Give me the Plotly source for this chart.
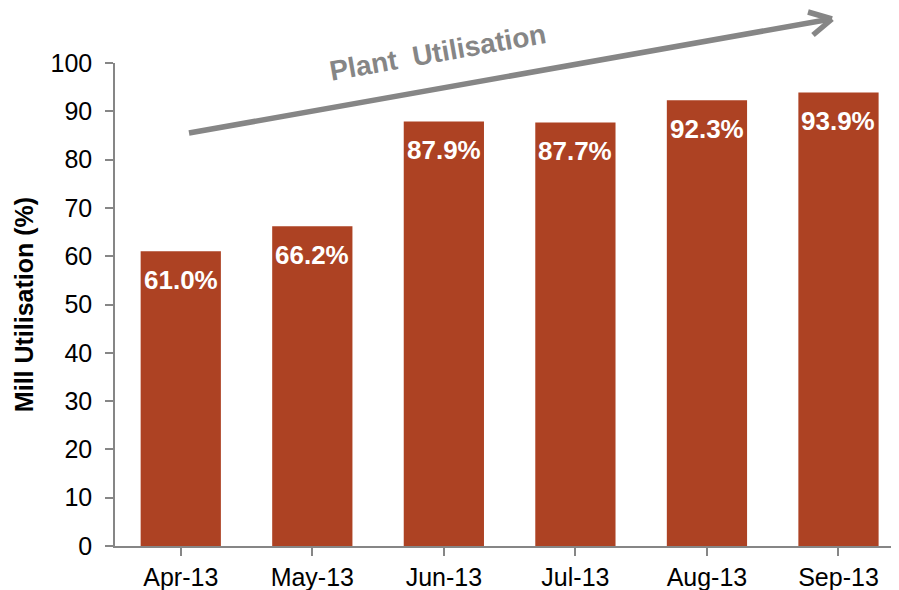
import plotly.graph_objects as go

months = ["Apr-13", "May-13", "Jun-13", "Jul-13", "Aug-13", "Sep-13"]
utilisation = [61.0, 66.2, 87.9, 87.7, 92.3, 93.9]
labels = ["61.0%", "66.2%", "87.9%", "87.7%", "92.3%", "93.9%"]
y_ticks = [0, 10, 20, 30, 40, 50, 60, 70, 80, 90, 100]

BAR = "#AD4223"
GREY = "#868686"
FONT = "Liberation Sans, Arial, sans-serif"

fig = go.Figure()
fig.add_trace(go.Bar(x=list(range(len(months))), y=utilisation, marker_color=BAR,
                     marker_line_width=0, hoverinfo="skip"))

for i, (v, t) in enumerate(zip(utilisation, labels)):
    fig.add_annotation(x=i, y=v, text="<b>%s</b>" % t, showarrow=False,
                       yanchor="top", yshift=-12,
                       font=dict(family=FONT, size=26, color="white"))

# page body has an 8px margin, so the figure is drawn 8px smaller
W, H = 891, 582
L, R, T, B = 107, 0, 55, 44
pw, ph = W - L - R, H - T - B

def px(x):  # window pixel -> paper
    return (x - 8 - L) / pw

def py(y):
    return (H - B - (y - 8)) / ph

line = dict(color=GREY, width=5.5)
shapes = [
    dict(type="line", xref="paper", yref="paper", x0=px(189), y0=py(133), x1=px(831), y1=py(19), line=line, layer="above"),
    dict(type="line", xref="paper", yref="paper", x0=px(808), y0=py(12), x1=px(832), y1=py(19), line=line, layer="above"),
    dict(type="line", xref="paper", yref="paper", x0=px(813), y0=py(35), x1=px(832), y1=py(19), line=line, layer="above"),
]
fig.add_annotation(xref="paper", yref="paper", x=px(437), y=py(52), text="<b>Plant  Utilisation</b>",
                   showarrow=False, textangle=-10, xanchor="center", yanchor="middle",
                   font=dict(family=FONT, size=28, color=GREY))

fig.update_layout(
    width=W, height=H, margin=dict(l=L, r=R, t=T, b=B, autoexpand=False),
    paper_bgcolor="white", plot_bgcolor="white",
    bargap=0.39, showlegend=False, shapes=shapes,
    font=dict(family=FONT, color="black"),
)
fig.update_xaxes(range=[-0.5, 5.46], tickmode="array", tickvals=list(range(len(months))), ticktext=months,
                 tickson="boundaries", ticks="outside", ticklen=8, tickcolor=GREY, tickwidth=1.5,
                 showline=True, linecolor=GREY, linewidth=1.5, showgrid=False, zeroline=False,
                 automargin=False,
                 tickfont=dict(size=25, family=FONT, color="black"))
fig.update_yaxes(range=[0, 100], tickvals=y_ticks, ticks="outside", ticklen=8, tickcolor=GREY, tickwidth=1.5,
                 showline=True, linecolor=GREY, linewidth=1.5, showgrid=False, zeroline=False,
                 automargin=False, ticklabelstandoff=8,
                 tickfont=dict(size=25, family=FONT, color="black"),
                 title=dict(text="<b>Mill Utilisation (%)</b>", font=dict(size=25, family=FONT, color="black"), standoff=10))

fig.write_html("out.html")
